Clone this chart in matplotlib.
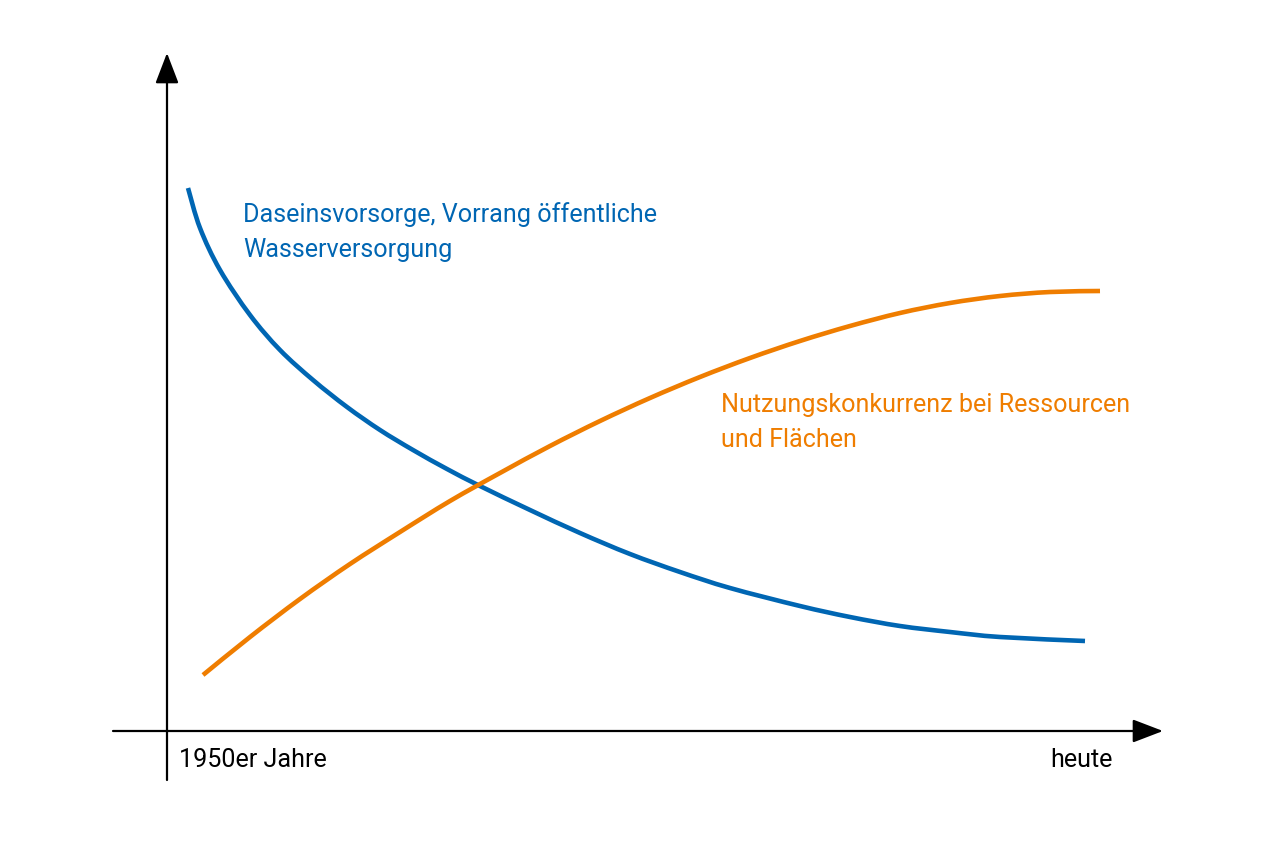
import matplotlib.pyplot as plt
import numpy as np
from matplotlib.path import Path
from matplotlib.patches import PathPatch

# curve values (pixel-like units, y downwards)
blue_x = [188, 200, 220, 250, 280, 313, 347, 380, 413, 447, 480, 530, 580, 630,
          680, 730, 800, 850, 900, 950, 1000, 1085]
blue_y = [188, 228, 270, 315, 350, 380, 407, 430, 450, 469, 486, 510, 533, 554,
          572, 588, 606, 617, 626, 632, 637, 641]

orange_x = [203, 250, 300, 350, 400, 450, 500, 550, 600, 650, 700, 750, 800,
            850, 900, 950, 1000, 1050, 1100]
orange_y = [675, 637, 599, 564, 532, 501, 473, 446, 421, 398, 377, 358, 341,
            326, 313, 303, 296, 292, 291]

blue_label = ['Daseinsvorsorge, Vorrang öffentliche', 'Wasserversorgung']
orange_label = ['Nutzungskonkurrenz bei Ressourcen', 'und Flächen']
x_start_label = '1950er Jahre'
x_end_label = 'heute'

BLUE = '#0066b3'
ORANGE = '#ef7d00'
FONT = ['Roboto', 'Liberation Sans', 'DejaVu Sans']
FS = 18.1


def smooth_path(xs, ys):
    # catmull-rom through the read points, drawn as cubic bezier pieces
    p = np.column_stack([xs, ys]).astype(float)
    p = np.vstack([p[0], p, p[-1]])
    verts = [p[1]]
    codes = [Path.MOVETO]
    for i in range(1, len(p) - 2):
        c1 = p[i] + (p[i + 1] - p[i - 1]) / 6
        c2 = p[i + 1] - (p[i + 2] - p[i]) / 6
        verts += [c1, c2, p[i + 1]]
        codes += [Path.CURVE4] * 3
    return Path(verts, codes)


fig = plt.figure(figsize=(12.75, 8.5), dpi=100)
ax = fig.add_axes([0, 0, 1, 1])
ax.set_xlim(0, 1275)
ax.set_ylim(850, 0)
ax.axis('off')

# axes with arrow heads
arrow = dict(arrowstyle='-|>,head_length=0.94,head_width=0.36', mutation_scale=20,
             lw=1.6, color='black', shrinkA=0, shrinkB=0)
ax.annotate('', xy=(167, 53), xytext=(167, 780), arrowprops=arrow)
ax.annotate('', xy=(1163, 731), xytext=(113, 731), arrowprops=arrow)

ax.add_patch(PathPatch(smooth_path(blue_x, blue_y), fill=False, edgecolor=BLUE,
                       lw=3.3, capstyle='butt'))
ax.add_patch(PathPatch(smooth_path(orange_x, orange_y), fill=False, edgecolor=ORANGE,
                       lw=3.3, capstyle='butt'))

for i, line in enumerate(blue_label):
    ax.text(243, 222 + 35 * i, line, color=BLUE, fontsize=FS, family=FONT,
            va='baseline', ha='left')
for i, line in enumerate(orange_label):
    ax.text(721, 412 + 35 * i, line, color=ORANGE, fontsize=FS, family=FONT,
            va='baseline', ha='left')

ax.text(179, 767, x_start_label, fontsize=FS, family=FONT, va='baseline', ha='left')
ax.text(1113, 767, x_end_label, fontsize=FS, family=FONT, va='baseline', ha='right')

fig.savefig('out.png', dpi=100)
